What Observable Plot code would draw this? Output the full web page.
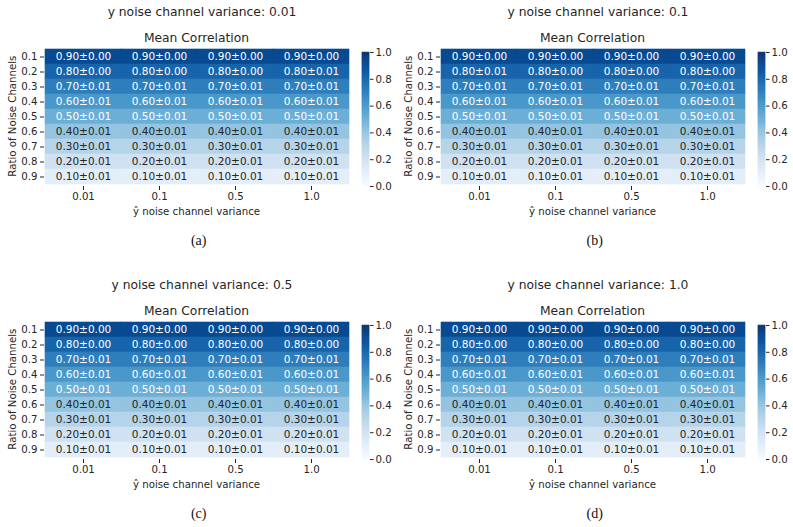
<!DOCTYPE html>
<html>
<head>
<meta charset="utf-8">
<script src="https://cdn.jsdelivr.net/npm/d3@7"></script>
<script src="https://cdn.jsdelivr.net/npm/@observablehq/plot@0.6"></script>
<style>
  html, body { margin: 0; padding: 0; background: #ffffff; }
  #fig { position: relative; width: 793px; height: 527px; overflow: hidden; background: #ffffff;
         font-family: "DejaVu Sans", sans-serif; color: #262626; }
  .lbl { position: absolute; white-space: nowrap; line-height: 1; text-align: center; }
  .fig-svg { position: absolute; }
  .caption { font-family: "Liberation Serif", "Times New Roman", serif; color: #111; }
</style>
</head>
<body>
<div id="fig"></div>
<script>
// y noise channel variance of each panel, and its caption letter
const panelVariances = ["0.01", "0.1", "0.5", "1.0"];
const panelLetters = ["(a)", "(b)", "(c)", "(d)"];

// heatmap axes
const yhatVariances = ["0.01", "0.1", "0.5", "1.0"];
const noiseRatios = ["0.1", "0.2", "0.3", "0.4", "0.5", "0.6", "0.7", "0.8", "0.9"];

// mean correlation per noise ratio (same in every column of every panel)
const meanCorrelation = [0.90, 0.80, 0.70, 0.60, 0.50, 0.40, 0.30, 0.20, 0.10];

// standard deviations, rows = noise ratio, columns = ŷ noise channel variance
const stdA = [
  [0.00, 0.00, 0.00, 0.00],
  [0.00, 0.00, 0.00, 0.01],
  [0.01, 0.01, 0.01, 0.01],
  [0.01, 0.01, 0.01, 0.01],
  [0.01, 0.01, 0.01, 0.01],
  [0.01, 0.01, 0.01, 0.01],
  [0.01, 0.01, 0.01, 0.01],
  [0.01, 0.01, 0.01, 0.01],
  [0.01, 0.01, 0.01, 0.01]
];
const stdB = [
  [0.00, 0.00, 0.00, 0.00],
  [0.01, 0.00, 0.00, 0.00],
  [0.01, 0.01, 0.01, 0.01],
  [0.01, 0.01, 0.01, 0.01],
  [0.01, 0.01, 0.01, 0.01],
  [0.01, 0.01, 0.01, 0.01],
  [0.01, 0.01, 0.01, 0.01],
  [0.01, 0.01, 0.01, 0.01],
  [0.01, 0.01, 0.01, 0.01]
];
const stdC = [
  [0.00, 0.00, 0.00, 0.00],
  [0.00, 0.00, 0.00, 0.00],
  [0.01, 0.01, 0.01, 0.01],
  [0.01, 0.01, 0.01, 0.01],
  [0.01, 0.01, 0.01, 0.01],
  [0.01, 0.01, 0.01, 0.01],
  [0.01, 0.01, 0.01, 0.01],
  [0.01, 0.01, 0.01, 0.01],
  [0.01, 0.01, 0.01, 0.01]
];
const stdD = [
  [0.00, 0.00, 0.00, 0.00],
  [0.00, 0.00, 0.00, 0.00],
  [0.01, 0.01, 0.01, 0.01],
  [0.01, 0.01, 0.01, 0.01],
  [0.01, 0.01, 0.01, 0.01],
  [0.01, 0.01, 0.01, 0.01],
  [0.01, 0.01, 0.01, 0.01],
  [0.01, 0.01, 0.01, 0.01],
  [0.01, 0.01, 0.01, 0.01]
];
const panelStds = [stdA, stdB, stdC, stdD];

// matplotlib-style "Blues" ramp
const bluesStops = ["#f7fbff", "#deebf7", "#c6dbef", "#9ecae1", "#6baed6", "#4292c6", "#2171b5", "#08519c", "#08306b"];
const bluesRamp = d3.piecewise(d3.interpolateRgb, bluesStops);
const colorOptions = { type: "linear", domain: [0, 1], interpolate: t => bluesRamp(t) };

const TEXT = "#262626";
const FONT = "DejaVu Sans, sans-serif";
const fig = document.getElementById("fig");

function addLabel(text, left, top, size, extraClass, width) {
  const el = document.createElement("div");
  el.className = "lbl" + (extraClass ? " " + extraClass : "");
  el.textContent = text;
  el.style.fontSize = size + "px";
  el.style.width = width + "px";
  el.style.left = (left - width / 2) + "px";
  el.style.top = top + "px";
  fig.appendChild(el);
  return el;
}

function placeSvg(svg, left, top) {
  svg.classList.add("fig-svg");
  svg.style.left = left + "px";
  svg.style.top = top + "px";
  fig.appendChild(svg);
}

panelVariances.forEach((variance, p) => {
  const dx = (p % 2) * 396;
  const dy = Math.floor(p / 2) * 273;
  const stds = panelStds[p];

  const cells = [];
  noiseRatios.forEach((ratio, r) => {
    yhatVariances.forEach((yhat, c) => {
      cells.push({ ratio, yhat, mean: meanCorrelation[r], std: stds[r][c] });
    });
  });

  // figure title and axes title
  addLabel("y noise channel variance: " + variance, dx + 202, dy + 6.1, 12.3, "", 300);
  addLabel("Mean Correlation", dx + 196.5, dy + 32.3, 12.3, "", 200);

  // annotated heatmap
  const heat = Plot.plot({
    width: 352,
    height: 168,
    marginLeft: 44,
    marginRight: 3,
    marginTop: 7,
    marginBottom: 22,
    style: { fontFamily: FONT, fontSize: "10.2px", color: TEXT, background: "transparent", overflow: "visible" },
    x: { domain: yhatVariances, padding: 0, tickSize: 4, tickPadding: 2.5, label: null },
    y: { domain: noiseRatios, padding: 0, tickSize: 4, tickPadding: 3, label: null },
    color: colorOptions,
    marks: [
      Plot.cell(cells, { x: "yhat", y: "ratio", fill: "mean", stroke: "mean", strokeWidth: 0.6, inset: 0 }),
      Plot.text(cells, {
        x: "yhat", y: "ratio",
        text: d => d.mean.toFixed(2) + "±" + d.std.toFixed(2),
        fill: d => (d.mean >= 0.5 ? "#ffffff" : TEXT),
        fontSize: 10.5
      })
    ]
  });
  placeSvg(heat, dx, dy + 40);

  // colorbar
  const steps = d3.range(0, 1, 1 / 200);
  const bar = Plot.plot({
    width: 7 + 30,
    height: 134 + 14,
    marginLeft: 0,
    marginRight: 30,
    marginTop: 7,
    marginBottom: 7,
    style: { fontFamily: FONT, fontSize: "10.2px", color: TEXT, background: "transparent", overflow: "visible" },
    x: { domain: [0, 1], axis: null },
    y: { domain: [0, 1], axis: "right", ticks: 5, tickFormat: ".1f", tickSize: 3.5, tickPadding: 2.5, label: null },
    color: colorOptions,
    marks: [
      Plot.rect(steps, { x1: 0, x2: 1, y1: d => d, y2: d => d + 1 / 200, fill: d => d, stroke: d => d, strokeWidth: 0.5 })
    ]
  });
  placeSvg(bar, dx + 362, dy + 45);

  // axis titles
  addLabel("ŷ noise channel variance", dx + 196.5, dy + 207.4, 10.2, "", 220);
  const yl = addLabel("Ratio of Noise Channels", dx + 13, dy + 116.5 - 5.1, 10.2, "", 160);
  yl.style.transform = "rotate(-90deg)";
  yl.style.transformOrigin = "50% 50%";

  // sub-figure caption
  addLabel(panelLetters[p], dx + 198.7, dy + 233.5, 14, "caption", 40);
});
</script>
</body>
</html>
